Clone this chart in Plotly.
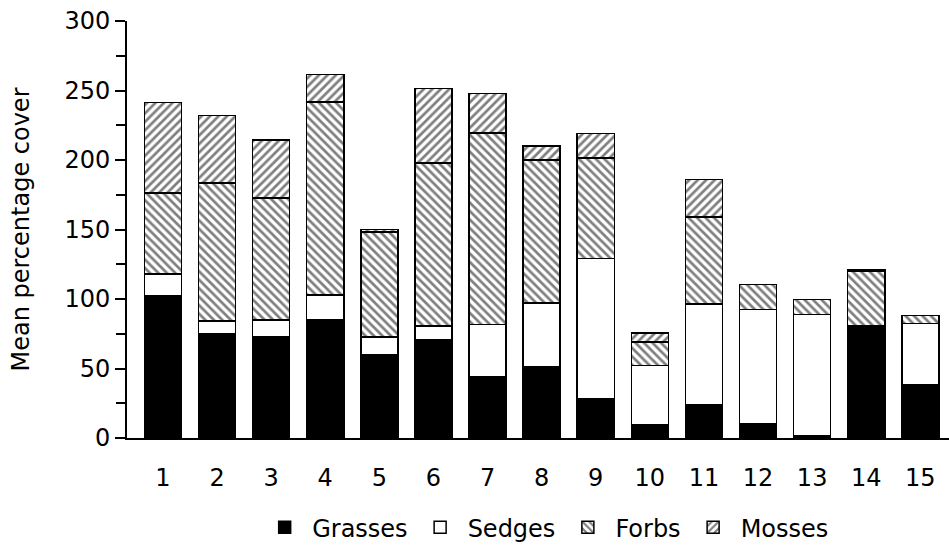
import plotly.graph_objects as go

sites = list(range(1, 16))
grasses = [102, 75, 73, 85, 60, 71, 44, 51, 28.5, 9.5, 24, 10, 1.7, 81, 38.6]
sedges = [16, 9, 12, 18, 12.5, 9.6, 37.5, 46.3, 100.8, 42.6, 72.5, 82.3, 87.1, 0, 43.7]
forbs = [58.4, 99.3, 87.8, 138.6, 75.6, 117.1, 138, 102.8, 72, 17.1, 62.4, 18.3, 10.8, 38.8, 5.7]
mosses = [65, 48.7, 41.5, 20, 1.9, 53.8, 28.4, 10, 17.6, 6.2, 26.9, 0, 0, 1, 0]

series = [
    ("Grasses", grasses, dict(color="black")),
    ("Sedges", sedges, dict(color="white")),
    ("Forbs", forbs, dict(color="white", pattern=dict(shape="\\", fgcolor="black", bgcolor="white", size=6, solidity=0.45))),
    ("Mosses", mosses, dict(color="white", pattern=dict(shape="/", fgcolor="black", bgcolor="white", size=6, solidity=0.45))),
]

FONT = "DejaVu Sans, Verdana, sans-serif"

fig = go.Figure()
for name, vals, mk in series:
    marker = dict(mk)
    marker["line"] = dict(color="black", width=1.5)
    fig.add_trace(go.Bar(x=sites, y=vals, name=name, marker=marker))

fig.update_layout(
    barmode="stack",
    bargap=0.315,
    width=949,
    height=545,
    margin=dict(l=127, r=0, t=21, b=107),
    paper_bgcolor="white",
    plot_bgcolor="white",
    font=dict(family=FONT, size=24, color="black"),
    showlegend=True,
    legend=dict(orientation="h", xref="container", yref="container",
                x=0.575, xanchor="center", y=0.032, yanchor="middle",
                font=dict(size=24), traceorder="normal", itemwidth=45),
    xaxis=dict(range=[0.335, 15.53], tickvals=sites, ticktext=[str(s) for s in sites],
               showline=True, linecolor="black", linewidth=2, ticks="", showgrid=False,
               zeroline=False, ticklabelstandoff=17, tickfont=dict(size=24)),
    yaxis=dict(range=[0, 300], tickvals=list(range(0, 301, 50)), showline=True,
               linecolor="black", linewidth=2, ticks="outside", ticklen=10, tickwidth=2,
               tickcolor="black", showgrid=False, zeroline=False, tickfont=dict(size=24),
               minor=dict(dtick=25, ticks="outside", ticklen=9, tickwidth=2, tickcolor="black", showgrid=False),
               title=dict(text="Mean percentage cover", standoff=28, font=dict(size=24))),
)

fig.write_html("out.html")
